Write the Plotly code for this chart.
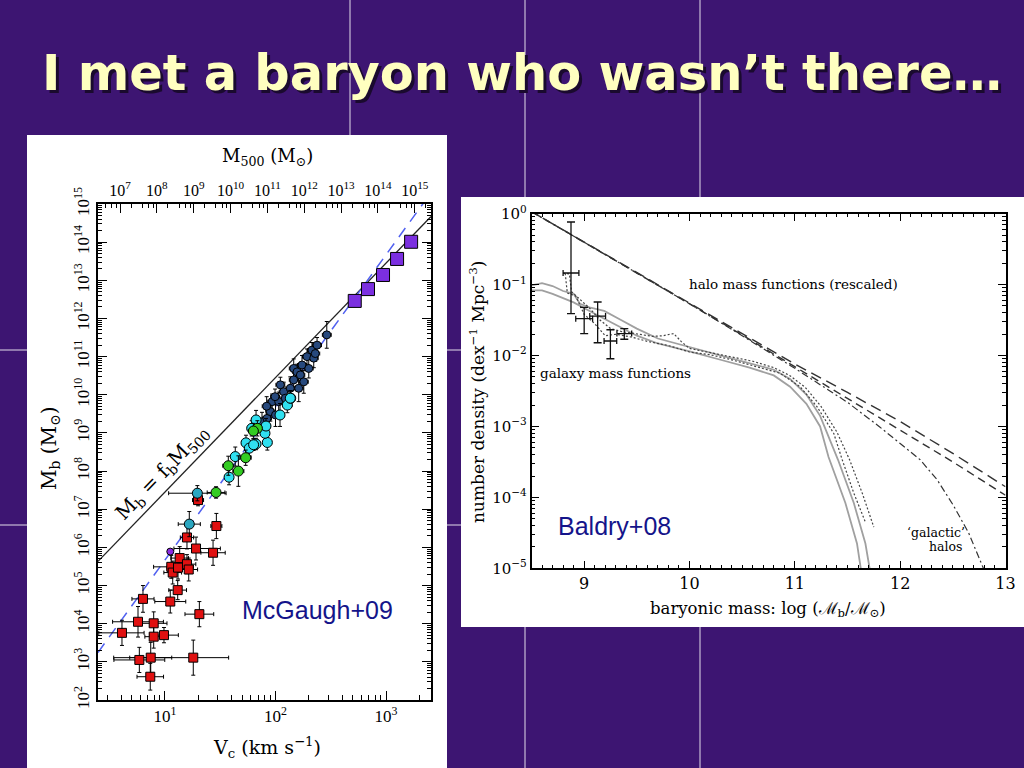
import numpy as np
import plotly.graph_objects as go

W, H = 1024, 768

# ---------------- Left panel (McGaugh+09): log10 Vc [km/s], log10 Mb [Msun] ----------------
red_logv = [0.611, 0.756, 0.898, 0.898, 0.991, 0.801, 1.048, 1.115, 1.311, 0.768, 0.871, 0.867,
            1.256, 1.057, 1.070, 1.118, 1.133, 1.199, 1.215, 1.199, 1.281, 1.435, 1.465, 1.299]
red_logm = [3.76, 4.05, 4.01, 3.66, 3.70, 4.65, 4.58, 4.88, 4.25, 3.05, 3.11, 2.61,
            3.11, 5.49, 5.34, 5.47, 5.72, 5.56, 5.42, 6.26, 5.97, 5.86, 6.56, 7.24]
red_xlo = [0.21, 0.23, 0.12, 0.08, 0.13, 0.10, 0.14, 0.08, 0.13, 0.23, 0.19, 0.12,
           0.72, 0.16, 0.08, 0.10, 0.08, 0.08, 0.08, 0.06, 0.20, 0.11, 0.05, 0.05]
red_xhi = [0.20, 0.23, 0.12, 0.08, 0.13, 0.10, 0.14, 0.08, 0.13, 0.23, 0.19, 0.12,
           0.32, 0.20, 0.08, 0.10, 0.08, 0.08, 0.08, 0.06, 0.22, 0.11, 0.05, 0.05]
red_yerr = [0.33, 0.40, 0.30, 0.30, 0.20, 0.35, 0.30, 0.25, 0.33, 0.33, 0.40, 0.35,
            0.46, 0.30, 0.30, 0.30, 0.30, 0.25, 0.30, 0.30, 0.30, 0.33, 0.33, 0.15]

teal_logv = [1.293, 1.220]
teal_logm = [7.42, 6.61]
teal_xerr = [0.26, 0.10]
teal_yerr = [0.20, 0.33]

green_logv = [1.462, 1.573, 1.664, 1.730, 1.836, 1.800]
green_logm = [7.44, 8.14, 8.00, 8.35, 9.12, 9.05]
green_xerr = [0.08, 0.05, 0.05, 0.05, 0.04, 0.04]
green_yerr = [0.15, 0.25, 0.40, 0.20, 0.20, 0.20]

cyan_logv = [1.580, 1.636, 1.733, 1.824, 1.926, 1.763, 1.785, 1.905, 1.824, 1.914,
             2.107, 2.138, 2.041, 2.134, 1.802]
cyan_logm = [7.84, 8.38, 8.74, 8.71, 8.75, 8.60, 9.12, 8.99, 9.34, 9.18,
             9.73, 9.91, 9.47, 9.91, 8.69]
cyan_yerr = [0.20, 0.25, 0.20, 0.15, 0.20, 0.20, 0.20, 0.30, 0.25, 0.20,
             0.20, 0.20, 0.30, 0.20, 0.15]

dark_logv = [1.878, 1.923, 1.953, 1.970, 2.000, 2.029, 2.044, 2.074, 2.089, 2.134, 2.165, 2.165,
             2.195, 2.210, 2.225, 2.240, 2.256, 2.285, 2.301, 2.330, 2.346, 2.360, 2.376, 2.464,
             1.996, 1.920]
dark_logm = [9.29, 9.38, 9.56, 9.82, 9.47, 9.82, 10.26, 10.08, 9.91, 10.17, 10.39, 10.69,
             10.60, 10.17, 10.52, 10.78, 10.34, 11.00, 10.69, 11.17, 10.96, 11.08, 11.30, 11.57,
             9.95, 9.70]
dark_yerr = [0.25, 0.20, 0.25, 0.20, 0.30, 0.25, 0.20, 0.25, 0.20, 0.30, 0.20, 0.25,
             0.20, 0.35, 0.20, 0.25, 0.30, 0.20, 0.25, 0.20, 0.25, 0.20, 0.20, 0.35,
             0.20, 0.25]

violet_logv = [1.048]
violet_logm = [5.89]

cluster_logv = [2.717, 2.837, 2.973, 3.100, 3.227]
cluster_logm = [12.46, 12.77, 13.14, 13.56, 14.01]

# relations
f_b = 0.17            # cosmic baryon fraction
logK500 = 5.22        # M500 = K * Vc^3
logA_btf = 1.67       # Mb = A * Vc^4

v_exps = [1, 2, 3]
m_exps = list(range(2, 16))
m500_exps = list(range(7, 16))

# ---------------- Right panel (Baldry+08) ----------------
halo_m = [8.5, 9.0, 9.5, 10.0, 10.5, 11.0, 11.5, 12.0, 12.5, 13.0]
halo1_logn = [0.03, -0.40, -0.84, -1.27, -1.70, -2.12, -2.52, -2.93, -3.38, -3.85]
halo2_logn = [0.03, -0.40, -0.84, -1.27, -1.71, -2.16, -2.61, -3.05, -3.50, -3.97]
gal_halo_m = [8.5, 9.0, 9.5, 10.0, 10.5, 11.0, 11.5, 11.8, 12.0, 12.19, 12.35, 12.5, 12.65, 12.79]
gal_halo_logn = [0.03, -0.40, -0.84, -1.27, -1.72, -2.18, -2.66, -3.00, -3.24, -3.47, -3.75, -4.10, -4.50, -5.0]

solidA_m = [8.5, 8.6, 8.7, 8.8, 8.9, 8.96, 9.05, 9.19, 9.35, 9.5, 9.7, 9.85, 10.0, 10.32, 10.57,
            10.8, 10.955, 11.11, 11.24, 11.41, 11.56, 11.67, 11.71]
solidA_logn = [-1.01, -0.98, -1.02, -1.09, -1.13, -1.27, -1.32, -1.37, -1.50, -1.62, -1.76, -1.82,
               -1.88, -2.01, -2.10, -2.20, -2.33, -2.55, -2.85, -3.47, -4.08, -4.65, -5.0]
solidB_m = [8.5, 8.6, 8.7, 8.78, 8.9, 9.1, 9.35, 9.5, 9.7, 9.85, 10.0, 10.32, 10.57,
            10.8, 10.955, 11.11, 11.24, 11.32, 11.48, 11.59, 11.626]
solidB_logn = [-1.08, -1.08, -1.13, -1.175, -1.25, -1.41, -1.60, -1.72, -1.83, -1.88, -1.94, -2.07,
               -2.17, -2.28, -2.44, -2.68, -3.00, -3.43, -4.08, -4.65, -5.0]

dot1_m = [8.80, 8.86, 8.88, 8.95, 9.05, 9.15, 9.25, 9.35, 9.5, 9.65, 9.75, 9.85, 9.92, 10.0,
          10.2, 10.4, 10.6, 10.8, 10.95, 11.1, 11.25, 11.4, 11.52, 11.64, 11.75]
dot1_logn = [-0.84, -0.85, -1.10, -1.20, -1.33, -1.50, -1.62, -1.66, -1.70, -1.73, -1.72, -1.69, -1.80,
             -1.90, -1.96, -2.02, -2.08, -2.17, -2.28, -2.45, -2.72, -3.08, -3.47, -3.94, -4.42]
dot2_m = [8.82, 8.84, 8.92, 9.0, 9.1, 9.2, 9.3, 9.45, 9.6, 9.8, 10.0, 10.2, 10.4, 10.6,
          10.86, 11.05, 11.21, 11.37, 11.45, 11.56, 11.67]
dot2_logn = [-0.84, -1.12, -1.16, -1.42, -1.55, -1.72, -1.70, -1.74, -1.80, -1.86, -1.95, -1.99,
             -2.06, -2.14, -2.25, -2.44, -2.72, -3.10, -3.47, -3.94, -4.35]

obs_m = [8.875, 9.0, 9.128, 9.249, 9.381]
obs_logn = [-0.836, -1.48, -1.443, -1.795, -1.69]
obs_logn_lo = [-1.41, -1.69, -1.82, -2.045, -1.77]
obs_logn_hi = [-0.117, -1.32, -1.245, -1.636, -1.62]
obs_xerr = [0.075, 0.08, 0.075, 0.06, 0.07]

n_exps = [0, -1, -2, -3, -4, -5]
mass_ticks = [9, 10, 11, 12, 13]

# ---------------- helpers ----------------
def px(x):
    return x / W

def py(y):
    return 1 - y / H

SERIF = "Liberation Serif"
WSERIF = "DejaVu Serif"
SANS = "Liberation Sans"

fig = go.Figure()

def logerr(lv, lm, xlo, xhi, yerr):
    lv = np.array(lv); lm = np.array(lm)
    v = 10 ** lv; m = 10 ** lm
    xlo = np.array(xlo); xhi = np.array(xhi); ye = np.array(yerr)
    return (v, m,
            10 ** (lv + xhi) - v, v - 10 ** (lv - xlo),
            10 ** (lm + ye) - m, m - 10 ** (lm - ye))

def add_group(lv, lm, xlo, xhi, ye, color, symbol, size):
    v, m, xp, xm, yp, ym = logerr(lv, lm, xlo, xhi, ye)
    fig.add_trace(go.Scatter(
        x=v, y=m, mode="markers", xaxis="x", yaxis="y",
        marker=dict(color=color, symbol=symbol, size=size, line=dict(color="black", width=1)),
        error_x=dict(type="data", symmetric=False, array=xp, arrayminus=xm,
                     color="black", thickness=1, width=2),
        error_y=dict(type="data", symmetric=False, array=yp, arrayminus=ym,
                     color="black", thickness=1, width=2),
        showlegend=False, hoverinfo="skip"))

# reference lines
vline = np.array([10 ** 0.394, 10 ** 3.407])
fig.add_trace(go.Scatter(x=vline, y=f_b * 10 ** logK500 * vline ** 3, mode="lines",
                         line=dict(color="#222222", width=1.3), xaxis="x", yaxis="y",
                         showlegend=False, hoverinfo="skip"))
fig.add_trace(go.Scatter(x=vline, y=10 ** logA_btf * vline ** 4, mode="lines",
                         line=dict(color="#5060f0", width=1.5, dash="11px,8px"), xaxis="x", yaxis="y",
                         showlegend=False, hoverinfo="skip"))

add_group(red_logv, red_logm, red_xlo, red_xhi, red_yerr, "#e01010", "square", 9)
add_group(violet_logv, violet_logm, [0.0], [0.0], [0.0], "#8a2be2", "circle", 7)
add_group(teal_logv, teal_logm, teal_xerr, teal_xerr, teal_yerr, "#2aa6c0", "circle", 10)
add_group(dark_logv, dark_logm, [0.04] * len(dark_logv), [0.04] * len(dark_logv), dark_yerr,
          "#27497d", "circle", 8)
add_group(cyan_logv, cyan_logm, [0.04] * len(cyan_logv), [0.04] * len(cyan_logv), cyan_yerr,
          "#30e0f0", "circle", 10)
add_group(green_logv, green_logm, green_xerr, green_xerr, green_yerr, "#33cc22", "circle", 10)
add_group(cluster_logv, cluster_logm, [0.02] * 5, [0.02] * 5, [0.05] * 5, "#7b2fe0", "square", 13)

# invisible trace on top axis
fig.add_trace(go.Scatter(x=[1e8], y=[1e3], mode="markers", marker=dict(opacity=0),
                         xaxis="x2", yaxis="y", showlegend=False, hoverinfo="skip"))

# ---------------- right panel traces ----------------
def addline(m, ln, color, width, dash):
    fig.add_trace(go.Scatter(x=m, y=10 ** np.array(ln), mode="lines", xaxis="x3", yaxis="y3",
                             line=dict(color=color, width=width, dash=dash),
                             showlegend=False, hoverinfo="skip"))

addline(solidA_m, solidA_logn, "#a0a0a0", 1.8, "solid")
addline(solidB_m, solidB_logn, "#a0a0a0", 1.8, "solid")
addline(dot1_m, dot1_logn, "#444444", 1.2, "2px,2px")
addline(dot2_m, dot2_logn, "#444444", 1.2, "2px,2px")
addline(halo_m, halo1_logn, "#333333", 1.4, "11px,6px")
addline(halo_m, halo2_logn, "#333333", 1.4, "8px,5px")
addline(gal_halo_m, gal_halo_logn, "#333333", 1.2, "7px,3px,2px,3px")

on = 10 ** np.array(obs_logn)
fig.add_trace(go.Scatter(
    x=obs_m, y=on, mode="markers", xaxis="x3", yaxis="y3",
    marker=dict(size=1, color="#111111"),
    error_x=dict(type="data", array=obs_xerr, color="#111111", thickness=1.3, width=3),
    error_y=dict(type="data", symmetric=False,
                 array=10 ** np.array(obs_logn_hi) - on,
                 arrayminus=on - 10 ** np.array(obs_logn_lo),
                 color="#111111", thickness=1.3, width=4),
    showlegend=False, hoverinfo="skip"))

# ---------------- layout ----------------
tickfont_l = dict(family=SERIF, size=17, color="black")
tickfont_r = dict(family=WSERIF, size=15, color="black")

def sup(e):
    return "10<sup>%s</sup>" % (str(e).replace("-", "\u2212"))

def minor_vals(lo, hi):
    return [k * 10.0 ** e for e in range(lo, hi) for k in range(2, 10)]

axis_common = dict(showgrid=False, zeroline=False, showline=True, linecolor="black",
                   ticks="inside", tickcolor="black", automargin=False)

layout = dict(
    width=W, height=H, margin=dict(l=0, r=0, t=0, b=0, pad=0, autoexpand=False),
    paper_bgcolor="#3d1572", plot_bgcolor="rgba(0,0,0,0)",
    xaxis=dict(axis_common, type="log", range=[0.394, 3.407],
               domain=[px(98), px(431)], anchor="y",
               tickvals=[10 ** e for e in v_exps], ticktext=[sup(e) for e in v_exps],
               ticklen=9, linewidth=1.5, tickwidth=1.2, tickfont=tickfont_l,
               minor=dict(ticks="inside", ticklen=5, tickcolor="black", showgrid=False,
                          tickvals=minor_vals(0, 4))),
    xaxis2=dict(axis_common, type="log", range=[3 * 0.394 + logK500, 3 * 3.407 + logK500],
                overlaying="x", side="top", anchor="y",
                tickvals=[10 ** e for e in m500_exps], ticktext=[sup(e) for e in m500_exps],
                ticklen=9, linewidth=1.5, tickwidth=1.2, tickfont=dict(family=SERIF, size=16, color="black"),
                minor=dict(ticks="inside", ticklen=4, tickcolor="black", showgrid=False,
                           tickvals=[k * 10.0 ** e for e in range(6, 16) for k in (2, 4, 6, 8)])),
    yaxis=dict(axis_common, type="log", range=[2, 15],
               domain=[py(700), py(204)], anchor="x", mirror="ticks",
               tickvals=[10 ** e for e in m_exps], ticktext=[sup(e) for e in m_exps],
               tickangle=-90, ticklen=9, linewidth=1.5, tickwidth=1.2, tickfont=tickfont_l,
               minor=dict(ticks="inside", ticklen=4, tickcolor="black", showgrid=False,
                          tickvals=minor_vals(2, 15))),
    xaxis3=dict(axis_common, range=[8.5, 13], domain=[px(531.5), px(1005.5)], anchor="y3",
                tickvals=mass_ticks, ticktext=[str(t) for t in mass_ticks], mirror="ticks",
                ticklen=8, linewidth=1.5, tickwidth=1.2, tickfont=dict(family=WSERIF, size=16, color="black"),
                minor=dict(ticks="inside", ticklen=4, dtick=0.1, tickcolor="black", showgrid=False)),
    yaxis3=dict(axis_common, type="log", range=[-5, 0], domain=[py(568.3), py(213.7)], anchor="x3",
                tickvals=[10 ** e for e in n_exps], ticktext=[sup(e) for e in n_exps], mirror="ticks",
                ticklen=8, linewidth=1.5, tickwidth=1.2, tickfont=tickfont_r,
                minor=dict(ticks="inside", ticklen=4, tickcolor="black", showgrid=False,
                           tickvals=minor_vals(-5, 0))),
)
fig.update_layout(**layout)

# ---------------- background shapes ----------------
shapes = []
for gx in [350, 525, 700]:
    shapes.append(dict(type="line", xref="paper", yref="paper", x0=px(gx), x1=px(gx), y0=0, y1=1,
                       line=dict(color="rgba(255,255,255,0.85)", width=1), layer="below"))
for gy in [350, 525]:
    shapes.append(dict(type="line", xref="paper", yref="paper", x0=0, x1=1, y0=py(gy), y1=py(gy),
                       line=dict(color="rgba(255,255,255,0.85)", width=1), layer="below"))
shapes.append(dict(type="rect", xref="paper", yref="paper", x0=px(27), x1=px(447), y0=py(768), y1=py(135),
                   fillcolor="white", line=dict(width=0), layer="below"))
shapes.append(dict(type="rect", xref="paper", yref="paper", x0=px(461), x1=px(1024), y0=py(627), y1=py(197),
                   fillcolor="white", line=dict(width=0), layer="below"))
fig.update_layout(shapes=shapes)

# ---------------- annotations ----------------
ann = []
def A(text, x, y, size, family=SERIF, color="black", angle=0, xanchor="center"):
    ann.append(dict(text=text, x=px(x), y=py(y), xref="paper", yref="paper", showarrow=False,
                    font=dict(family=family, size=size, color=color), textangle=angle,
                    xanchor=xanchor, yanchor="middle"))

title = "<b>I met a baryon who wasn\u2019t there\u2026</b>"
A(title, 525, 76, 49.5, family="DejaVu Sans", color="#1a0a2e")
A(title, 522, 73, 49.5, family="DejaVu Sans", color="#FFFFC0")

A("M<sub>500</sub> (M<sub>\u2299</sub>)", 267, 157, 18, family=WSERIF)
A("M<sub>b</sub> (M<sub>\u2299</sub>)", 50, 448, 20, family=WSERIF, angle=-90)
A("V<sub>c</sub> (km s<sup>\u22121</sup>)", 267, 747, 19, family=WSERIF)
A("M<sub>b</sub> = f<sub>b</sub>M<sub>500</sub>", 162, 473, 20, family=WSERIF, angle=-46)
A("McGaugh+09", 317, 610, 25, family=SANS, color="#14148a")

A("number density (dex<sup>\u22121</sup> Mpc<sup>\u22123</sup>)", 477, 392, 17, family=WSERIF, angle=-90)
A("baryonic mass: log (\u2133<sub>b</sub>/\u2133<sub>\u2299</sub>)", 768, 609, 16.5, family=WSERIF)
A("halo mass functions (rescaled)", 793, 284, 13.5, family=WSERIF)
A("galaxy mass functions", 615, 373, 13.5, family=WSERIF)
A("\u2018galactic\u2019", 967, 532, 12.5, family=WSERIF, xanchor="right")
A("halos", 964, 546, 12.5, family=WSERIF, xanchor="right")
A("Baldry+08", 614, 526, 25, family=SANS, color="#14148a")

fig.update_layout(annotations=ann)

fig.write_html("out.html", config={"displayModeBar": False},
               post_script="document.body.style.margin='0px';document.body.style.overflow='hidden';")
